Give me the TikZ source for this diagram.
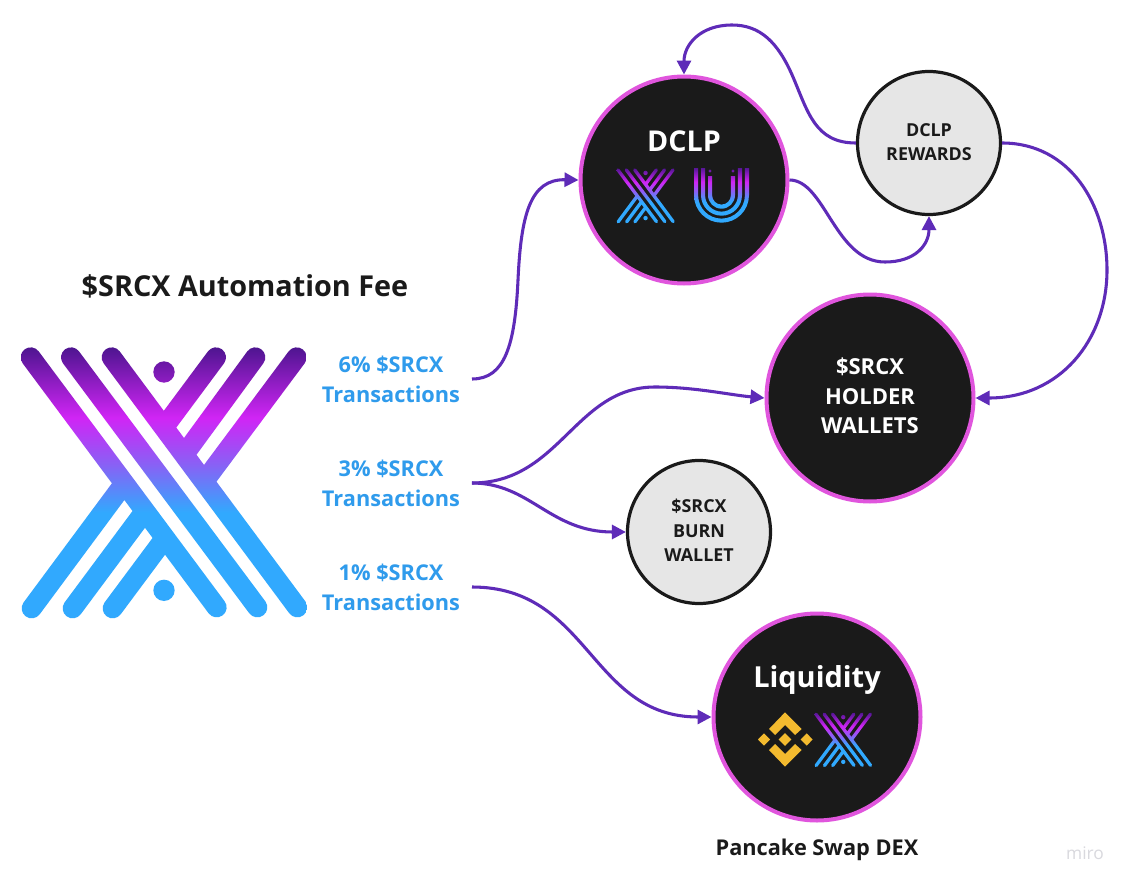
\documentclass[tikz,border=0pt]{standalone}
\usepackage{fontspec}
\setmainfont{Open Sans}
\usetikzlibrary{arrows.meta}
\definecolor{conn}{HTML}{5E2BB8}
\definecolor{disc}{HTML}{1A1A1A}
\definecolor{ringc}{HTML}{E055DD}
\definecolor{grayf}{HTML}{E6E6E6}
\definecolor{labelc}{HTML}{2F9BEC}
\definecolor{bnb}{HTML}{F3BA2F}
\definecolor{mirog}{HTML}{D9D9DE}
\pgfdeclareverticalshading{logograd}{100bp}{rgb(0bp)=(.192,.663,.996); rgb(44.5bp)=(.192,.663,.996); rgb(53.5bp)=(.54,.376,.96); rgb(62bp)=(.816,.145,.96); rgb(75bp)=(.306,.082,.565); rgb(100bp)=(.306,.082,.565)}
\newcommand{\lbar}[5]{([shift={(#5:\lr)}]#1,-#2) -- ([shift={(#5:\lr)}]#3,-#4) arc[start angle=#5, delta angle=-180, radius=\lr] -- ([shift={(#5+180:\lr)}]#1,-#2) arc[start angle=#5+180, delta angle=-180, radius=\lr] -- cycle }
\newcommand{\logopaths}{\lbar{92}{82}{650}{832}{36.7} \lbar{213}{82}{772}{832}{36.7} \lbar{335}{82}{892}{832}{36.7} \lbar{492}{292}{648}{82}{143.3} \lbar{554}{372}{766}{82}{143.3} \lbar{612}{455}{890}{82}{143.3} \lbar{95}{835}{373}{460}{143.3} \lbar{218}{835}{435}{543}{143.3} \lbar{338}{835}{495}{624}{143.3} (492,-126) circle[radius=32] (492,-781) circle[radius=32] }
\newcommand{\srcxlogo}[4]{\begin{scope}[shift={(#1,-#2)},scale={#3/3}]\def\lr{#4}\begin{scope}\clip \logopaths;\path[shading=logograd] (64,-52) rectangle (920,-865);\end{scope}\end{scope}}
\newcommand{\uu}[5]{({#1-#3},-#2) -- ({#1-#3},-#5) arc[start angle=180, end angle=360, radius=#3] -- ({#1+#3},-#2) -- ({#1+#4},-#2) -- ({#1+#4},-#5) arc[start angle=360, end angle=180, radius=#4] -- ({#1-#4},-#2) -- cycle }
\tikzset{
  bigdisc/.style={circle,draw=ringc,fill=disc,line width=3pt,minimum size=207*0.75pt,inner sep=0pt},
  smalldisc/.style={circle,draw=disc,fill=grayf,line width=2.4pt,minimum size=143*0.75pt,inner sep=0pt},
  bigtext/.style={text=white,inner sep=0pt,font=\fontsize{16.5}{22.2}\selectfont\bfseries,align=center},
  smalltext/.style={text=disc,inner sep=0pt,font=\fontsize{13.4}{18.3}\selectfont\bfseries,align=center},
  feelabel/.style={text=labelc,font=\fontsize{16.3}{22.5}\selectfont\bfseries,align=center,minimum width=162*0.75pt,inner sep=0pt,outer sep=0pt},
  head/.style={text=disc,inner sep=0pt,font=\fontsize{#1}{#1}\selectfont\bfseries},
  discword/.style={text=white,inner sep=0pt,font=\fontsize{#1}{#1}\selectfont\bfseries},
  flow/.style={draw=conn,line width=2.3pt,-{Triangle[length=10.5pt,width=10.5pt]}}
}
\begin{document}
\begin{tikzpicture}[x=0.75pt,y=0.75pt]
\useasboundingbox (0,0) rectangle (1129,-885);
\fill[white] (0,0) rectangle (1129,-885);
% logo
\srcxlogo{0}{330}{1}{30}
% nodes
\node[head=21.6] (title) at (245,-286) {\$SRCX Automation Fee};
\node[feelabel] (six) at (391,-379) {6\% \$SRCX\\Transactions};
\node[feelabel] (three) at (391,-483) {3\% \$SRCX\\Transactions};
\node[feelabel] (one) at (391,-587) {1\% \$SRCX\\Transactions};
\node[bigdisc] (dclp) at (684,-180) {};
\node[smalldisc] (rewards) at (929,-143) {};
\node[bigdisc] (holder) at (870,-398) {};
\node[smalldisc] (burn) at (699,-532) {};
\node[bigdisc] (liq) at (817,-717) {};
\node[smalltext] (rewardsword) at (929,-142) {DCLP\\REWARDS};
\node[bigtext] (holderword) at (870,-396) {\$SRCX\\HOLDER\\WALLETS};
\node[smalltext] (burnword) at (699,-530.5) {\$SRCX\\BURN\\WALLET};
\node[discword=21.5] (dclpword) at (684,-141) {DCLP};
\node[discword=21.7] (liqword) at (817,-680) {Liquidity};
\node[head=16.3] (dex) at (817,-850) {Pancake Swap DEX};
\node[text=mirog,inner sep=0pt,font=\fontsize{13}{13}\selectfont] (miro) at (1085,-853) {miro};
% small logos
\srcxlogo{611.6}{164.2}{0.207}{24}
\srcxlogo{809.6}{708.5}{0.205}{24}
\begin{scope}
  \clip \uu{721.5}{168}{27.5}{23.4}{195.2} \uu{721.5}{168}{20.5}{16.4}{195.2} \uu{721.5}{176}{13.5}{9.4}{195.2} (710,-171) circle[radius=1.7] (733,-171) circle[radius=1.7];
  \path[shading=logograd] (693,-167) rectangle (750,-224);
\end{scope}
% binance mark
\begin{scope}[shift={(750,-705)},scale=1/3]
  \fill[bnb] (105,-22) -- (155,-72) -- (135,-90) -- (105,-60) -- (75,-90) -- (57,-72) -- cycle;
  \fill[bnb] (105,-185) -- (155,-135) -- (135,-117) -- (105,-147) -- (75,-117) -- (57,-135) -- cycle;
  \fill[bnb] (105,-84) -- (124,-103.5) -- (105,-123) -- (86,-103.5) -- cycle;
  \fill[bnb] (42,-85) -- (60,-103.5) -- (42,-122) -- (24,-103.5) -- cycle;
  \fill[bnb] (170,-85) -- (188,-103.5) -- (170,-122) -- (152,-103.5) -- cycle;
\end{scope}
% connectors
\draw[flow] (six.east) .. controls (505,-379) and (515,-345) .. (518,-280) .. controls (521,-215) and (530,-179) .. (dclp.west);
\draw[flow] (dclp.east) .. controls (825,-180) and (835,-262) .. (885,-262) .. controls (915,-262) and (929,-245) .. (rewards.south);
\draw[flow] (rewards.west) .. controls (815,-143) and (808,-112) .. (793,-77) .. controls (778,-42) and (760,-25) .. (732,-25) .. controls (700,-25) and (684,-45) .. (dclp.north);
\draw[flow] (rewards.east) .. controls (1070,-143) and (1107,-205) .. (1107,-270) .. controls (1107,-340) and (1060,-398) .. (holder.east);
\draw[flow] (three.east) .. controls (560,-483) and (575,-387) .. (655,-387) .. controls (695,-387) and (730,-395) .. (holder.west);
\draw[flow] (three.east) .. controls (530,-483) and (550,-532) .. (burn.west);
\draw[flow] (one.east) .. controls (590,-587) and (590,-717) .. (liq.west);
\end{tikzpicture}
\end{document}
